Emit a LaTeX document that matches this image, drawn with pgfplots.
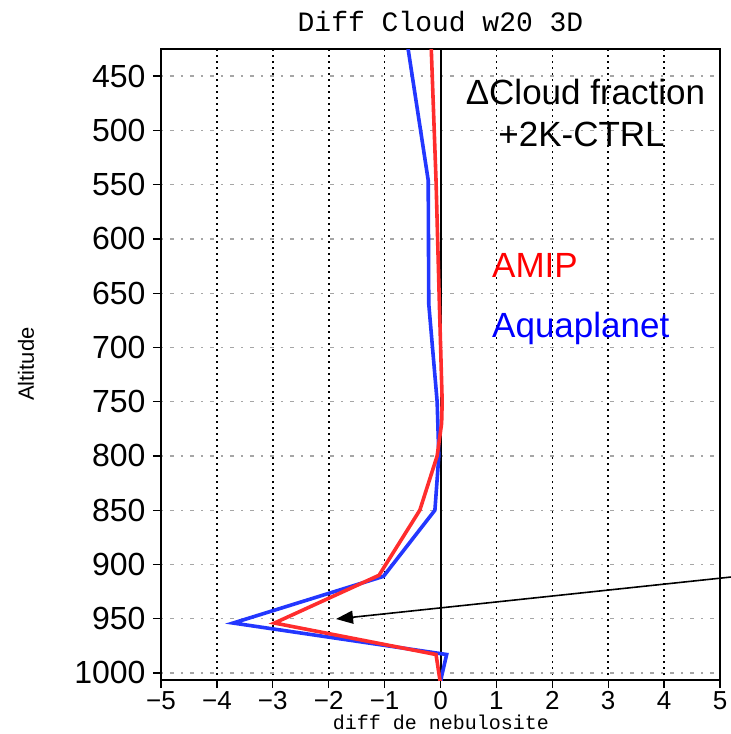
\documentclass[border=0pt]{standalone}
\usepackage{pgfplots}
\pgfplotsset{compat=1.18}
\usetikzlibrary{arrows.meta}
\usepackage{fontspec}
\setmainfont{Liberation Sans}
\newfontfamily\monofont{Liberation Mono}
\definecolor{linered}{RGB}{255,45,45}
\definecolor{lineblue}{RGB}{35,55,255}
\begin{document}
\begin{tikzpicture}
\begin{axis}[
  at={(0pt,0pt)}, anchor=south west,
  scale only axis, width=559pt, height=631pt,
  xmin=-5, xmax=5, ymin=425, ymax=1006.5,
  y dir=reverse,
  xtick={-5,...,5},
  xticklabels={−5,−4,−3,−2,−1,0,1,2,3,4,5},
  ytick={450,500,...,1000},
  xtick pos=bottom, ytick pos=left,
  tick align=outside,
  major tick length=8pt,
  tick style={black, line width=1.3pt},
  axis line style={black, line width=1.6pt},
  /pgf/number format/assume math mode=true,
  /pgf/number format/1000 sep={},
  yticklabel style={font=\fontsize{32}{36}\selectfont, xshift=-4pt},
  xticklabel style={font=\fontsize{26}{28}\selectfont, yshift=-2pt, inner sep=1pt},
  xmajorgrids, ymajorgrids,
  major x grid style={black, line width=1.6pt, dash pattern=on 1.6pt off 4.4pt},
  major y grid style={black!35, line width=1.3pt, dash pattern=on 2pt off 7pt on 4pt off 7pt},
  clip=true,
]
\addplot[black, line width=2pt] coordinates {(0,420) (0,1002)};
\addplot[lineblue, line width=3.6pt, line join=miter] coordinates {
 (-0.60,418) (-0.22,546) (-0.21,660) (-0.06,750) (-0.03,800) (-0.10,850)
 (-1.02,911) (-3.71,954) (0.11,983) (0.02,1003) (0.0,1010)};
\addplot[linered, line width=3.6pt, line join=miter] coordinates {
 (-0.17,418) (-0.08,546) (-0.02,660) (0.03,750) (0.02,770) (-0.06,800)
 (-0.37,850) (-1.10,910) (-2.97,954) (-0.08,983) (0.0,1010)};
\end{axis}
% annotations (pixel frame: left=161, bottom=680)
\draw[black, line width=1.6pt, -{Triangle[length=17pt,width=13pt]}] (575pt,103.5pt) -- (175pt,61pt);
\node[font=\monofont\fontsize{28}{30}\selectfont, anchor=base] at (279.5pt,648pt) {Diff Cloud w20 3D};
\node[font=\monofont\fontsize{20}{22}\selectfont, anchor=base, inner sep=1pt] at (280pt,-49pt) {diff de nebulosite};
\node[font=\fontsize{22}{24}\selectfont, rotate=90, anchor=base] at (-127pt,316pt) {Altitude};
\node[font=\fontsize{35}{38}\selectfont, anchor=base] at (424.5pt,575pt) {ΔCloud fraction};
\node[font=\fontsize{35}{38}\selectfont, anchor=base] at (420.5pt,533pt) {+2K-CTRL};
\node[font=\fontsize{35}{38}\selectfont, anchor=base west, text=red, inner sep=0pt] at (331pt,402pt) {AMIP};
\node[font=\fontsize{35}{38}\selectfont, anchor=base west, text=blue, inner sep=0pt] at (331pt,342pt) {Aquaplanet};
\pgfresetboundingbox
\path (-161pt,-54pt) rectangle (570pt,680pt);
\end{tikzpicture}
\end{document}
